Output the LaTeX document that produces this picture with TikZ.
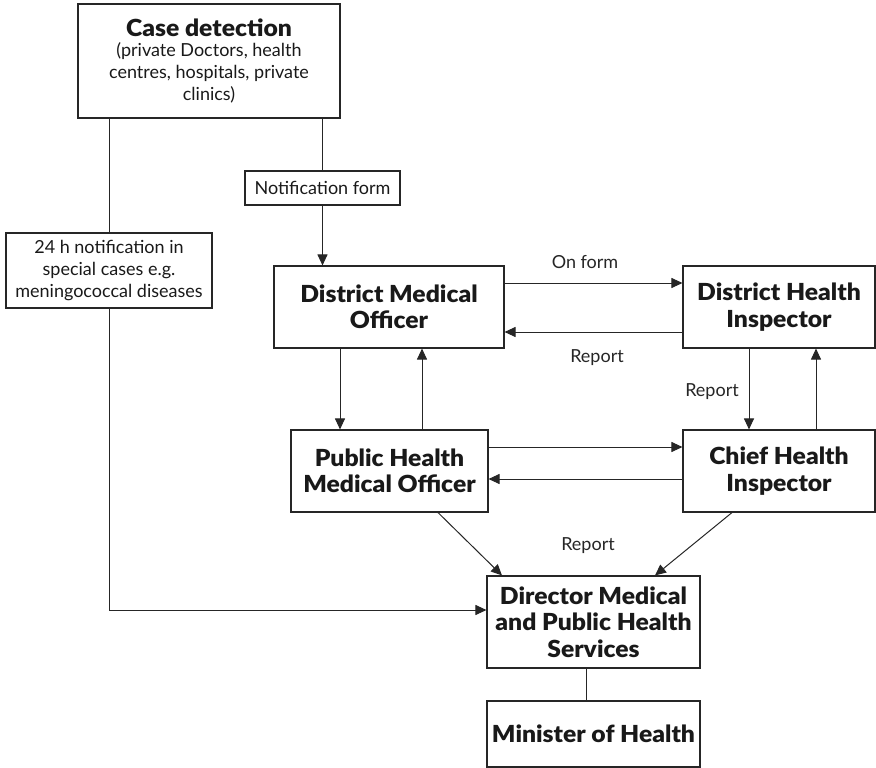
\documentclass[tikz,border=0pt]{standalone}
\usepackage{fontspec}
\setmainfont{Lato}[BoldFont={Lato Black}, BoldFeatures={FakeStretch=1.05}]
\usepackage{tikz}
\usetikzlibrary{arrows.meta, positioning, calc}

\begin{document}
\begin{tikzpicture}[
          x=1pt, y=-1pt,
          >={Triangle[length=11pt,width=10pt]},
          line width=1pt, color=black!85,
          box/.style={draw, line width=1.1pt, align=center, inner sep=2pt, text=black!90},
          headbox/.style={box, font=\fontsize{23.5}{26.5}\selectfont\bfseries},
          notebox/.style={box, font=\fontsize{18}{21.7}\selectfont},
          lbl/.style={font=\fontsize{18}{20}\selectfont, text=black!85}
        ]
        \useasboundingbox (0,0) rectangle (876,768);
        % boxes
        \node [notebox, minimum width=262pt, minimum height=114pt] (case) at (209,61)
          {\fontsize{23.5}{24}\selectfont\bfseries Case detection\\[-2pt]
           (private Doctors, health\\ centres, hospitals, private\\ clinics)};
        \node [notebox, minimum width=155pt, minimum height=34pt] (notif) at (322.5,188) {Notification form};
        \node [notebox, minimum width=206pt, minimum height=75pt] (spec) at (109,270.5)
          {24 h notification in\\ special cases e.g.\\ meningococcal diseases};
        \node [headbox, minimum width=230pt, minimum height=82pt] (dmo) at (389,307) {District Medical\\ Officer};
        \node [headbox, minimum width=192pt, minimum height=82pt] (dhi) at (779,307) {District Health\\ Inspector};
        \node [headbox, minimum width=197pt, minimum height=82pt] (phmo) at (389.5,471) {Public Health\\ Medical Officer};
        \node [headbox, minimum width=192pt, minimum height=82pt] (chi) at (779,471) {Chief Health\\ Inspector};
        \node [headbox, minimum width=213pt, minimum height=92pt] (dir) at (593.5,622)
          {Director Medical\\ and Public Health\\ Services};
        \node [headbox, minimum width=213pt, minimum height=66pt] (minh) at (593.5,734) {Minister of Health};
        % connectors
        \draw (case.south -| notif.north) -- (notif.north);
        \draw [->] (notif.south) -- (notif.south |- dmo.north);
        \draw (case.south -| spec.north) -- (spec.north);
        \draw [->] (spec.south) |- ([yshift=12pt]dir.west);
        \draw [->] ([yshift=24pt]dmo.east) -- ([yshift=24pt]dhi.west);
        \draw [->] ([yshift=-25pt]dhi.west) -- ([yshift=-25pt]dmo.east);
        \draw [->] ([xshift=-49pt]dmo.south) -- ([xshift=-49.5pt]phmo.north);
        \draw [->] ([xshift=32.5pt]phmo.north) -- ([xshift=33pt]dmo.south);
        \draw [->] ([xshift=-30pt]dhi.south) -- ([xshift=-30pt]chi.north);
        \draw [->] ([xshift=37pt]chi.north) -- ([xshift=37pt]dhi.south);
        \draw [->] ([yshift=24pt]phmo.east) -- ([yshift=24pt]chi.west);
        \draw [->] ([yshift=-8pt]chi.west) -- ([yshift=-8pt]phmo.east);
        \draw [->] ([xshift=48.5pt]phmo.south) -- ([xshift=-91.5pt]dir.north);
        \draw [->] ([xshift=-47pt]chi.south) -- ([xshift=61.5pt]dir.north);
        \draw ([xshift=-7.5pt]dir.south) -- ([xshift=-7.5pt]minh.north);
        % labels
        \node [lbl] (onform) at (585,262) {On form};
        \node [lbl] (rep1) at (597,358) {Report};
        \node [lbl] (rep2) at (712,392) {Report};
        \node [lbl] (rep3) at (588,546) {Report};
\end{tikzpicture}
\end{document}
